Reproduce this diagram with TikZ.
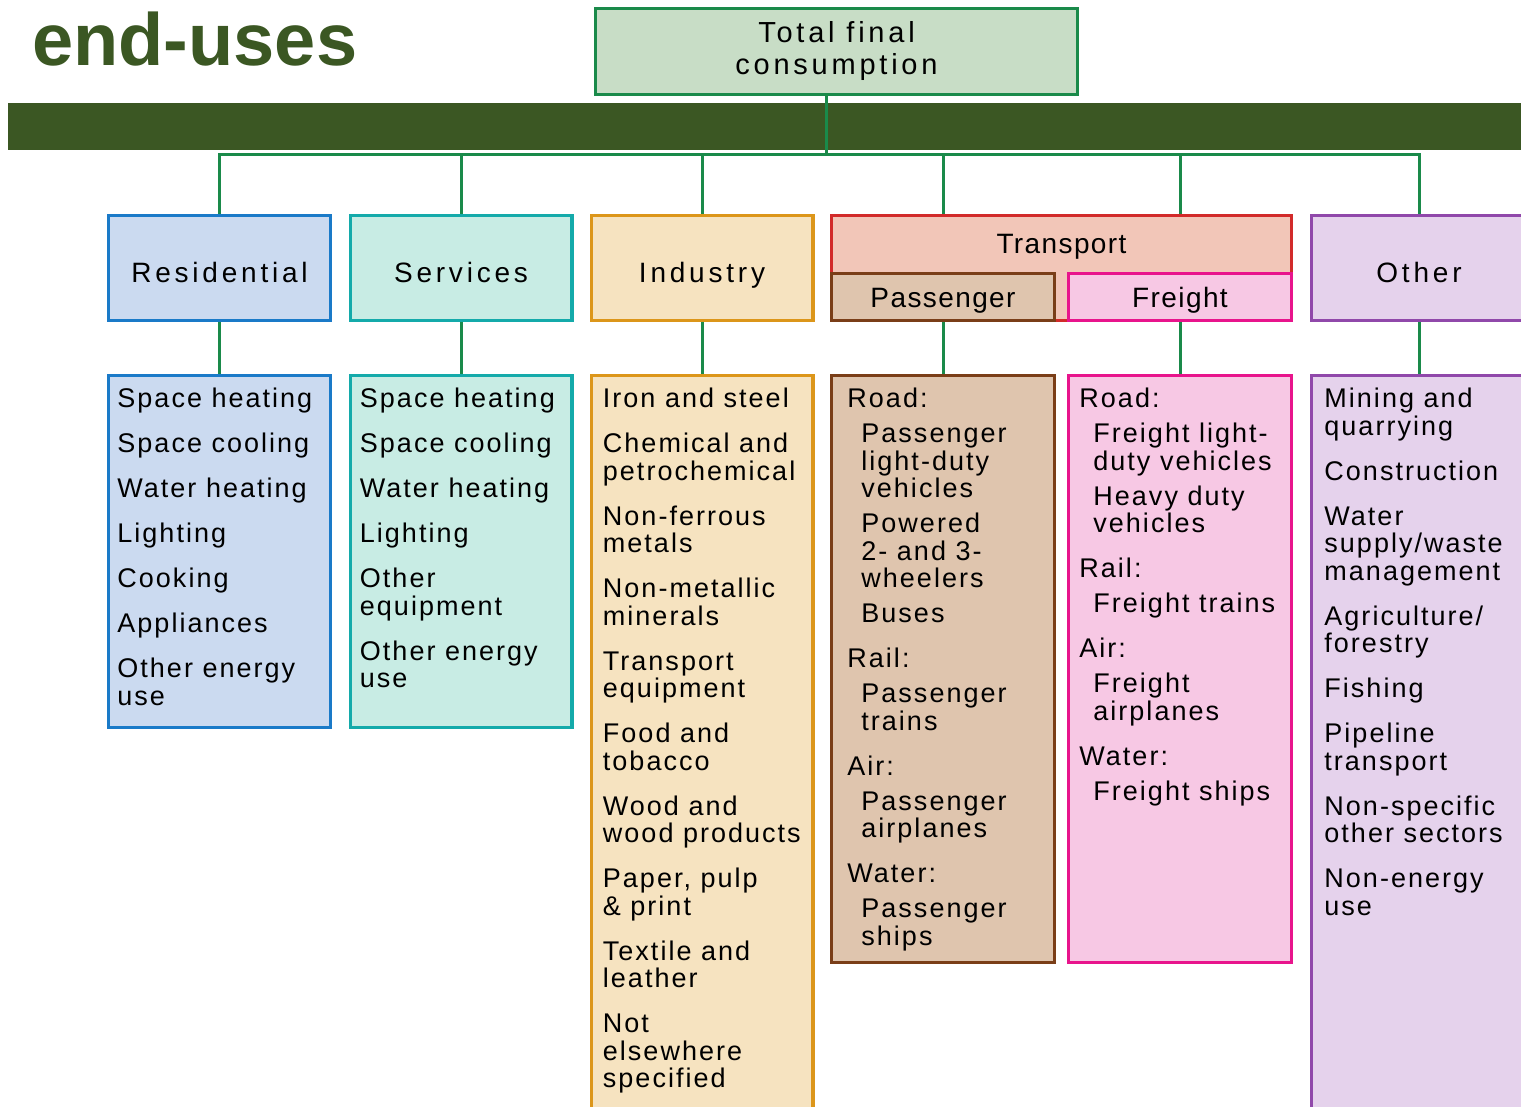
\documentclass[tikz,border=0pt]{standalone}
\usepackage{fontspec}
\setmainfont{Liberation Sans}
\newfontfamily\listfont[LetterSpace=7.5]{Liberation Sans}
\newfontfamily\headfont[LetterSpace=13.5]{Liberation Sans}
\newfontfamily\subheadfont[LetterSpace=5]{Liberation Sans}
\newfontfamily\topfont[LetterSpace=13]{Liberation Sans}
\usetikzlibrary{positioning}

\definecolor{bargreen}{HTML}{3B5723}
\definecolor{linkgreen}{HTML}{1A8A4A}
\definecolor{totfill}{HTML}{C8DDC6}
\definecolor{resline}{HTML}{1A7AC8}
\definecolor{resfill}{HTML}{CBDAF0}
\definecolor{serline}{HTML}{14AAAA}
\definecolor{serfill}{HTML}{C8ECE4}
\definecolor{indline}{HTML}{DC961A}
\definecolor{indfill}{HTML}{F6E3C0}
\definecolor{traline}{HTML}{D22A2A}
\definecolor{trafill}{HTML}{F2C6B8}
\definecolor{pasline}{HTML}{7A3E18}
\definecolor{pasfill}{HTML}{DFC5AE}
\definecolor{freline}{HTML}{E8148C}
\definecolor{frefill}{HTML}{F7C8E4}
\definecolor{othline}{HTML}{9048AA}
\definecolor{othfill}{HTML}{E5D2EC}

\newcommand{\itemgap}{\\[8.75pt]}
\newcommand{\subgap}{\\[3.75pt]}
\newcommand{\subind}{\hspace*{7pt}}

\begin{document}
\begin{tikzpicture}[
  x=0.5pt, y=-0.5pt,
  node distance=26pt,
  topbox/.style={rectangle, draw=linkgreen, fill=totfill, line width=1.6pt, minimum width=240.9pt, minimum height=42.9pt, align=center, inner sep=0pt, font={\topfont\fontsize{14.5pt}{16pt}\selectfont}},
  catbox/.style={rectangle, draw, line width=1.6pt, minimum width=110.9pt, minimum height=52.4pt, inner sep=0pt, text height=18pt, text depth=3pt, font={\headfont\fontsize{14pt}{16pt}\selectfont}},
  subbox/.style={rectangle, draw, line width=1.6pt, minimum width=111.4pt, minimum height=23.4pt, inner sep=0pt, text height=13pt, text depth=3pt, font={\subheadfont\fontsize{14pt}{16pt}\selectfont}},
  listbox/.style={rectangle, draw, line width=1.6pt, minimum width=110.9pt, inner sep=0pt},
  listtext/.style={anchor=north west, inner sep=0pt, align=left, execute at begin node={\rule{0pt}{10pt}}, font={\listfont\fontsize{13.5pt}{13.75pt}\selectfont}},
  link/.style={draw=linkgreen, line width=1.5pt}
]
\useasboundingbox (0,0) rectangle (1521,1107);
\node[anchor=base west, inner sep=0pt, text=bargreen, font={\fontsize{37pt}{40pt}\selectfont\bfseries}] (title) at (32,66) {end-uses};
\node[topbox] (total) at (836.5,51.5) {Total final\\consumption};
\fill[bargreen] (8,103) rectangle (1530,150);
\coordinate (hub) at (826,155);

% sectors
\node[catbox, draw=resline, fill=resfill] (res) at (219.5,268) {Residential};
\node[catbox, draw=serline, fill=serfill] (ser) at (461,268) {Services};
\node[catbox, draw=indline, fill=indfill] (ind) at (702,268) {Industry};
\node[catbox, draw=traline, fill=trafill, minimum width=229.9pt] (tra) at (1061.5,268) {};
\node[subbox, draw=pasline, fill=pasfill, anchor=south west] (pas) at (tra.south west) {Passenger};
\node[subbox, draw=freline, fill=frefill, anchor=south east] (fre) at (tra.south east) {Freight};
\node[anchor=north, inner sep=0pt, minimum height=29pt, text height=13pt, text depth=3pt, font={\subheadfont\fontsize{14pt}{16pt}\selectfont}] (tratitle) at (tra.north) {Transport};
\node[catbox, draw=othline, fill=othfill, minimum width=107.4pt] (oth) at (1419,268) {Other};

% lists
\node[listbox, draw=resline, fill=resfill, minimum height=175.9pt, below=of res] (reslist) {};
\node[listbox, draw=serline, fill=serfill, minimum height=175.9pt, below=of ser] (serlist) {};
\node[listbox, draw=indline, fill=indfill, minimum height=368.9pt, below=of ind] (indlist) {};
\node[listbox, draw=pasline, fill=pasfill, minimum width=111.4pt, minimum height=293.4pt, below=of pas] (paslist) {};
\node[listbox, draw=freline, fill=frefill, minimum width=111.4pt, minimum height=293.4pt, below=of fre] (frelist) {};
\node[listbox, draw=othline, fill=othfill, minimum width=107.4pt, minimum height=368.9pt, below=of oth] (othlist) {};

\node[listtext] (restext) at ([xshift=5pt, yshift=-7pt]reslist.north west) {Space heating\itemgap
Space cooling\itemgap
Water heating\itemgap
Lighting\itemgap
Cooking\itemgap
Appliances\itemgap
Other energy\\use};
\node[listtext] (sertext) at ([xshift=5.5pt, yshift=-7pt]serlist.north west) {Space heating\itemgap
Space cooling\itemgap
Water heating\itemgap
Lighting\itemgap
Other\\equipment\itemgap
Other energy\\use};
\node[listtext] (indtext) at ([xshift=6.5pt, yshift=-7pt]indlist.north west) {Iron and steel\itemgap
Chemical and\\petrochemical\itemgap
Non-ferrous\\metals\itemgap
Non-metallic\\minerals\itemgap
Transport\\equipment\itemgap
Food and\\tobacco\itemgap
Wood and\\wood products\itemgap
Paper, pulp\\\& print\itemgap
Textile and\\leather\itemgap
Not\\elsewhere\\specified};
\node[listtext] (pastext) at ([xshift=8.5pt, yshift=-7pt]paslist.north west) {Road:\subgap
\subind Passenger\\\subind light-duty\\\subind vehicles\subgap
\subind Powered\\\subind 2- and 3-\\\subind wheelers\subgap
\subind Buses\itemgap
Rail:\subgap
\subind Passenger\\\subind trains\itemgap
Air:\subgap
\subind Passenger\\\subind airplanes\itemgap
Water:\subgap
\subind Passenger\\\subind ships};
\node[listtext] (fretext) at ([xshift=6pt, yshift=-7pt]frelist.north west) {Road:\subgap
\subind Freight light-\\\subind duty vehicles\subgap
\subind Heavy duty\\\subind vehicles\itemgap
Rail:\subgap
\subind Freight trains\itemgap
Air:\subgap
\subind Freight\\\subind airplanes\itemgap
Water:\subgap
\subind Freight ships};
\node[listtext] (othtext) at ([xshift=7pt, yshift=-7pt]othlist.north west) {Mining and\\quarrying\itemgap
Construction\itemgap
Water\\supply/waste\\management\itemgap
Agriculture/\\forestry\itemgap
Fishing\itemgap
Pipeline\\transport\itemgap
Non-specific\\other sectors\itemgap
Non-energy\\use};

% connectors
\draw[link] (hub |- total.south) -- (hub);
\draw[link] (res.north) -- (res.north |- hub) -- (oth.north |- hub) -- (oth.north);
\foreach \n in {ser,ind} \draw[link] (\n.north |- hub) -- (\n.north);
\foreach \n in {pas,fre} \draw[link] (\n.north |- hub) -- (\n.north |- tra.north);
\foreach \n in {res,ser,ind,pas,fre,oth} \draw[link] (\n.south) -- (\n list.north);
\end{tikzpicture}
\end{document}
